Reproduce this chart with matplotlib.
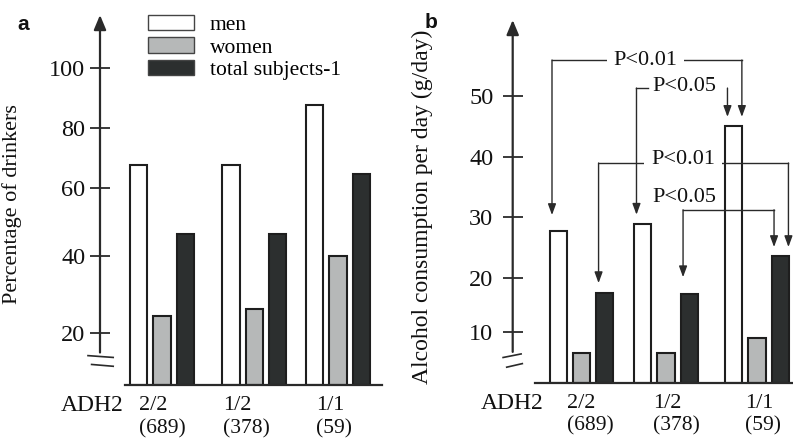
import matplotlib
matplotlib.use("Agg")
import matplotlib.pyplot as plt
import numpy as np
from matplotlib.patches import Patch

plt.rcParams['font.family'] = ['Liberation Serif', 'DejaVu Serif']

# ---- data ----
genotypes = ["2/2", "1/2", "1/1"]
counts = ["(689)", "(378)", "(59)"]
series = ["men", "women", "total subjects-1"]

# a: percentage of drinkers
drink_men = [67.7, 67.7, 87.7]
drink_women = [24.4, 26.2, 40.0]
drink_total = [46.5, 46.5, 64.7]

# b: alcohol consumption per day (g/day)
alc_men = [27.7, 28.9, 45.1]
alc_women = [5.9, 5.9, 8.8]
alc_total = [17.2, 17.0, 23.6]

yticks_a = [20, 40, 60, 80, 100]
yticks_b = [10, 20, 30, 40, 50]

# significance brackets in b: (text, level, text x, text dy px, left end, right end, mode)
# an end is (group, series, side, gap px above bar)
brackets = [
    ("P<0.01", 55.9, 1.32, 0, (0, 0, "l", 16), (2, 0, "r", 9), "mask"),
    ("P<0.05", 51.3, 2.94, 2, (1, 0, "l", 9), (2, 0, "l", 9), "left"),
    ("P<0.01", 39.0, 2.90, 3, (0, 2, "l", 10), (2, 2, "r", 9), "mask"),
    ("P<0.05", 31.2, 2.94, 12, (1, 2, "l", 17), (2, 2, "l", 9), "plain"),
]

# ---- style / layout ----
W, H = 793, 441
fills = ["#ffffff", "#b6b8b8", "#2c2f2f"]
edge = "#1e1e1e"
line_c = "#2a2a2a"
txt_c = "#111111"
bar_w = 0.72
bar_off = [-0.97, 0.0, 0.97]
side_off = {"l": -0.26, "r": 0.34}

knots_a = ([0, 20, 40, 60, 80, 100, 140], [0, 52, 129, 197, 257, 317, 437])
knots_b = ([0, 10, 20, 30, 40, 50, 70], [0, 51, 105, 166, 226, 287, 409])


def box(l, r, b, t):
    return [l / W, 1 - b / H, (r - l) / W, (b - t) / H]


fig = plt.figure(figsize=(W / 100, H / 100), dpi=100)


def setup(ax, knots, groups, xlim, base_x0, ticks, ylabel, lab_pos, lab_size, lab_off,
          tick_pad, axis_bottom, breaks, count_dy):
    vals, hts = knots
    ax.set_yscale("function", functions=(lambda v: np.interp(v, vals, hts),
                                         lambda h: np.interp(h, hts, vals)))
    ax.set_xlim(*xlim)
    for s in ["top", "right", "left"]:
        ax.spines[s].set_visible(False)
    ax.spines["bottom"].set_bounds(base_x0, xlim[1])
    ax.spines["bottom"].set_linewidth(1.6)
    ax.spines["bottom"].set_color(line_c)
    ax.set_xticks([])
    ax.set_yticks(ticks)
    ax.tick_params(axis="y", direction="inout", length=14, width=1.3, pad=tick_pad,
                   labelsize=17.5, colors=line_c, labelcolor=txt_c)
    ax.set_ylabel(ylabel, fontsize=lab_size, color=txt_c)
    ax.yaxis.set_label_coords(*lab_pos)
    # axis line with arrow head
    ax.annotate("", xy=(0, 1), xycoords="axes fraction",
                xytext=(0, axis_bottom), textcoords=("axes fraction", "data"),
                arrowprops=dict(arrowstyle="-|>,head_length=0.55,head_width=0.23",
                                lw=1.6, color=line_c, mutation_scale=16,
                                shrinkA=0, shrinkB=0))
    for (x0, y0, x1, y1) in breaks:
        ax.plot([xlim[0] + x0, xlim[0] + x1], [y0, y1], color=line_c, lw=1.2,
                clip_on=False)
    # category labels
    ax.annotate("ADH2", xy=(-1.6, 0), xycoords=("data", "axes fraction"),
                xytext=(0, -15), textcoords="offset points", ha="right", va="center",
                fontsize=17, color=txt_c)
    for g, gt, n, off in zip(groups, genotypes, counts, lab_off):
        ax.annotate(gt, xy=(g + off, 0), xycoords=("data", "axes fraction"),
                    xytext=(0, -15), textcoords="offset points", ha="left",
                    va="center", fontsize=16, color=txt_c)
        ax.annotate(n, xy=(g + off, 0), xycoords=("data", "axes fraction"),
                    xytext=(0, count_dy), textcoords="offset points", ha="left",
                    va="center", fontsize=15.5, color=txt_c)


def draw_bars(ax, groups, data):
    gx = np.array(groups)
    for i, vals in enumerate(data):
        ax.bar(gx + bar_off[i], vals, bar_w, color=fills[i], edgecolor=edge,
               lw=1.5, zorder=2)


# ---- panel a ----
ax_a = fig.add_axes(box(100, 382, 385, 15))
groups_a = [0, 3.85, 7.33]
setup(ax_a, knots_a, groups_a, (-2.583, 9.167), -1.54, yticks_a,
      "Percentage of drinkers", (-0.277, 0.49), 16, [-0.95, -1.3, -0.9], 3.5, 12.5,
      [(-0.5, 11.3, 0.55, 10.6), (-0.35, 7.9, 0.55, 7.2)], -31.5)
ax_a.set_ylim(0, np.interp(370, knots_a[1], knots_a[0]))
draw_bars(ax_a, groups_a, [drink_men, drink_women, drink_total])

handles = [Patch(facecolor=f, edgecolor="#444444", lw=1.0) for f in fills]
ax_a.legend(handles, series, loc="upper left", bbox_to_anchor=(148 / W, 1 - 15 / H),
            bbox_transform=fig.transFigure, frameon=False, fontsize=15.5,
            handlelength=2.14, handleheight=0.7, labelspacing=0.11,
            handletextpad=0.74, borderpad=0, borderaxespad=0)

# ---- panel b ----
ax_b = fig.add_axes(box(512.7, 793, 383, 20))
groups_b = [0, 3.52, 7.31]
setup(ax_b, knots_b, groups_b, (-2.867, 8.81), -1.94, yticks_b,
      "Alcohol consumption per day (g/day)", (-0.284, 0.485), 17, [-0.6, -0.55, -0.5], 7,
      6.1, [(-0.4, 5.0, 0.35, 5.7), (-0.25, 3.1, 0.4, 3.8)], -31)
ax_b.set_ylim(0, np.interp(363, knots_b[1], knots_b[0]))
alc = [alc_men, alc_women, alc_total]
draw_bars(ax_b, groups_b, alc)

arrow_kw = dict(arrowstyle="-|>,head_length=0.6,head_width=0.22", lw=1.0,
                color=line_c, mutation_scale=11, shrinkA=0)
for text, level, tx, dy, left, right, mode in brackets:
    ends = []
    for g, s, side, gap in (left, right):
        x = groups_b[g] + bar_off[s] + side_off[side]
        ax_b.annotate("", xy=(x, alc[s][g]), xytext=(x, level),
                      arrowprops=dict(arrow_kw, shrinkB=gap * 0.72), zorder=3)
        ends.append(x)
    if mode == "left":
        ax_b.plot([ends[0], tx - 0.15], [level, level], color=line_c, lw=1.0, zorder=3)
    else:
        ax_b.plot(ends, [level, level], color=line_c, lw=1.0, zorder=3)
    bbox = dict(boxstyle="square,pad=0.3", fc="white", ec="none") if mode == "mask" else None
    ax_b.annotate(text, xy=(tx, level), xytext=(0, dy * 0.72), textcoords="offset points",
                  ha="left", va="center", fontsize=16, color=txt_c, bbox=bbox,
                  zorder=4)

# panel letters
fig.text(23 / W, 1 - 24 / H, "a", ha="center", va="center", fontsize=15,
         fontweight="bold", family="Liberation Sans", color=txt_c)
fig.text(431 / W, 1 - 22 / H, "b", ha="center", va="center", fontsize=15,
         fontweight="bold", family="Liberation Sans", color=txt_c)

fig.savefig("out.png", dpi=100)
